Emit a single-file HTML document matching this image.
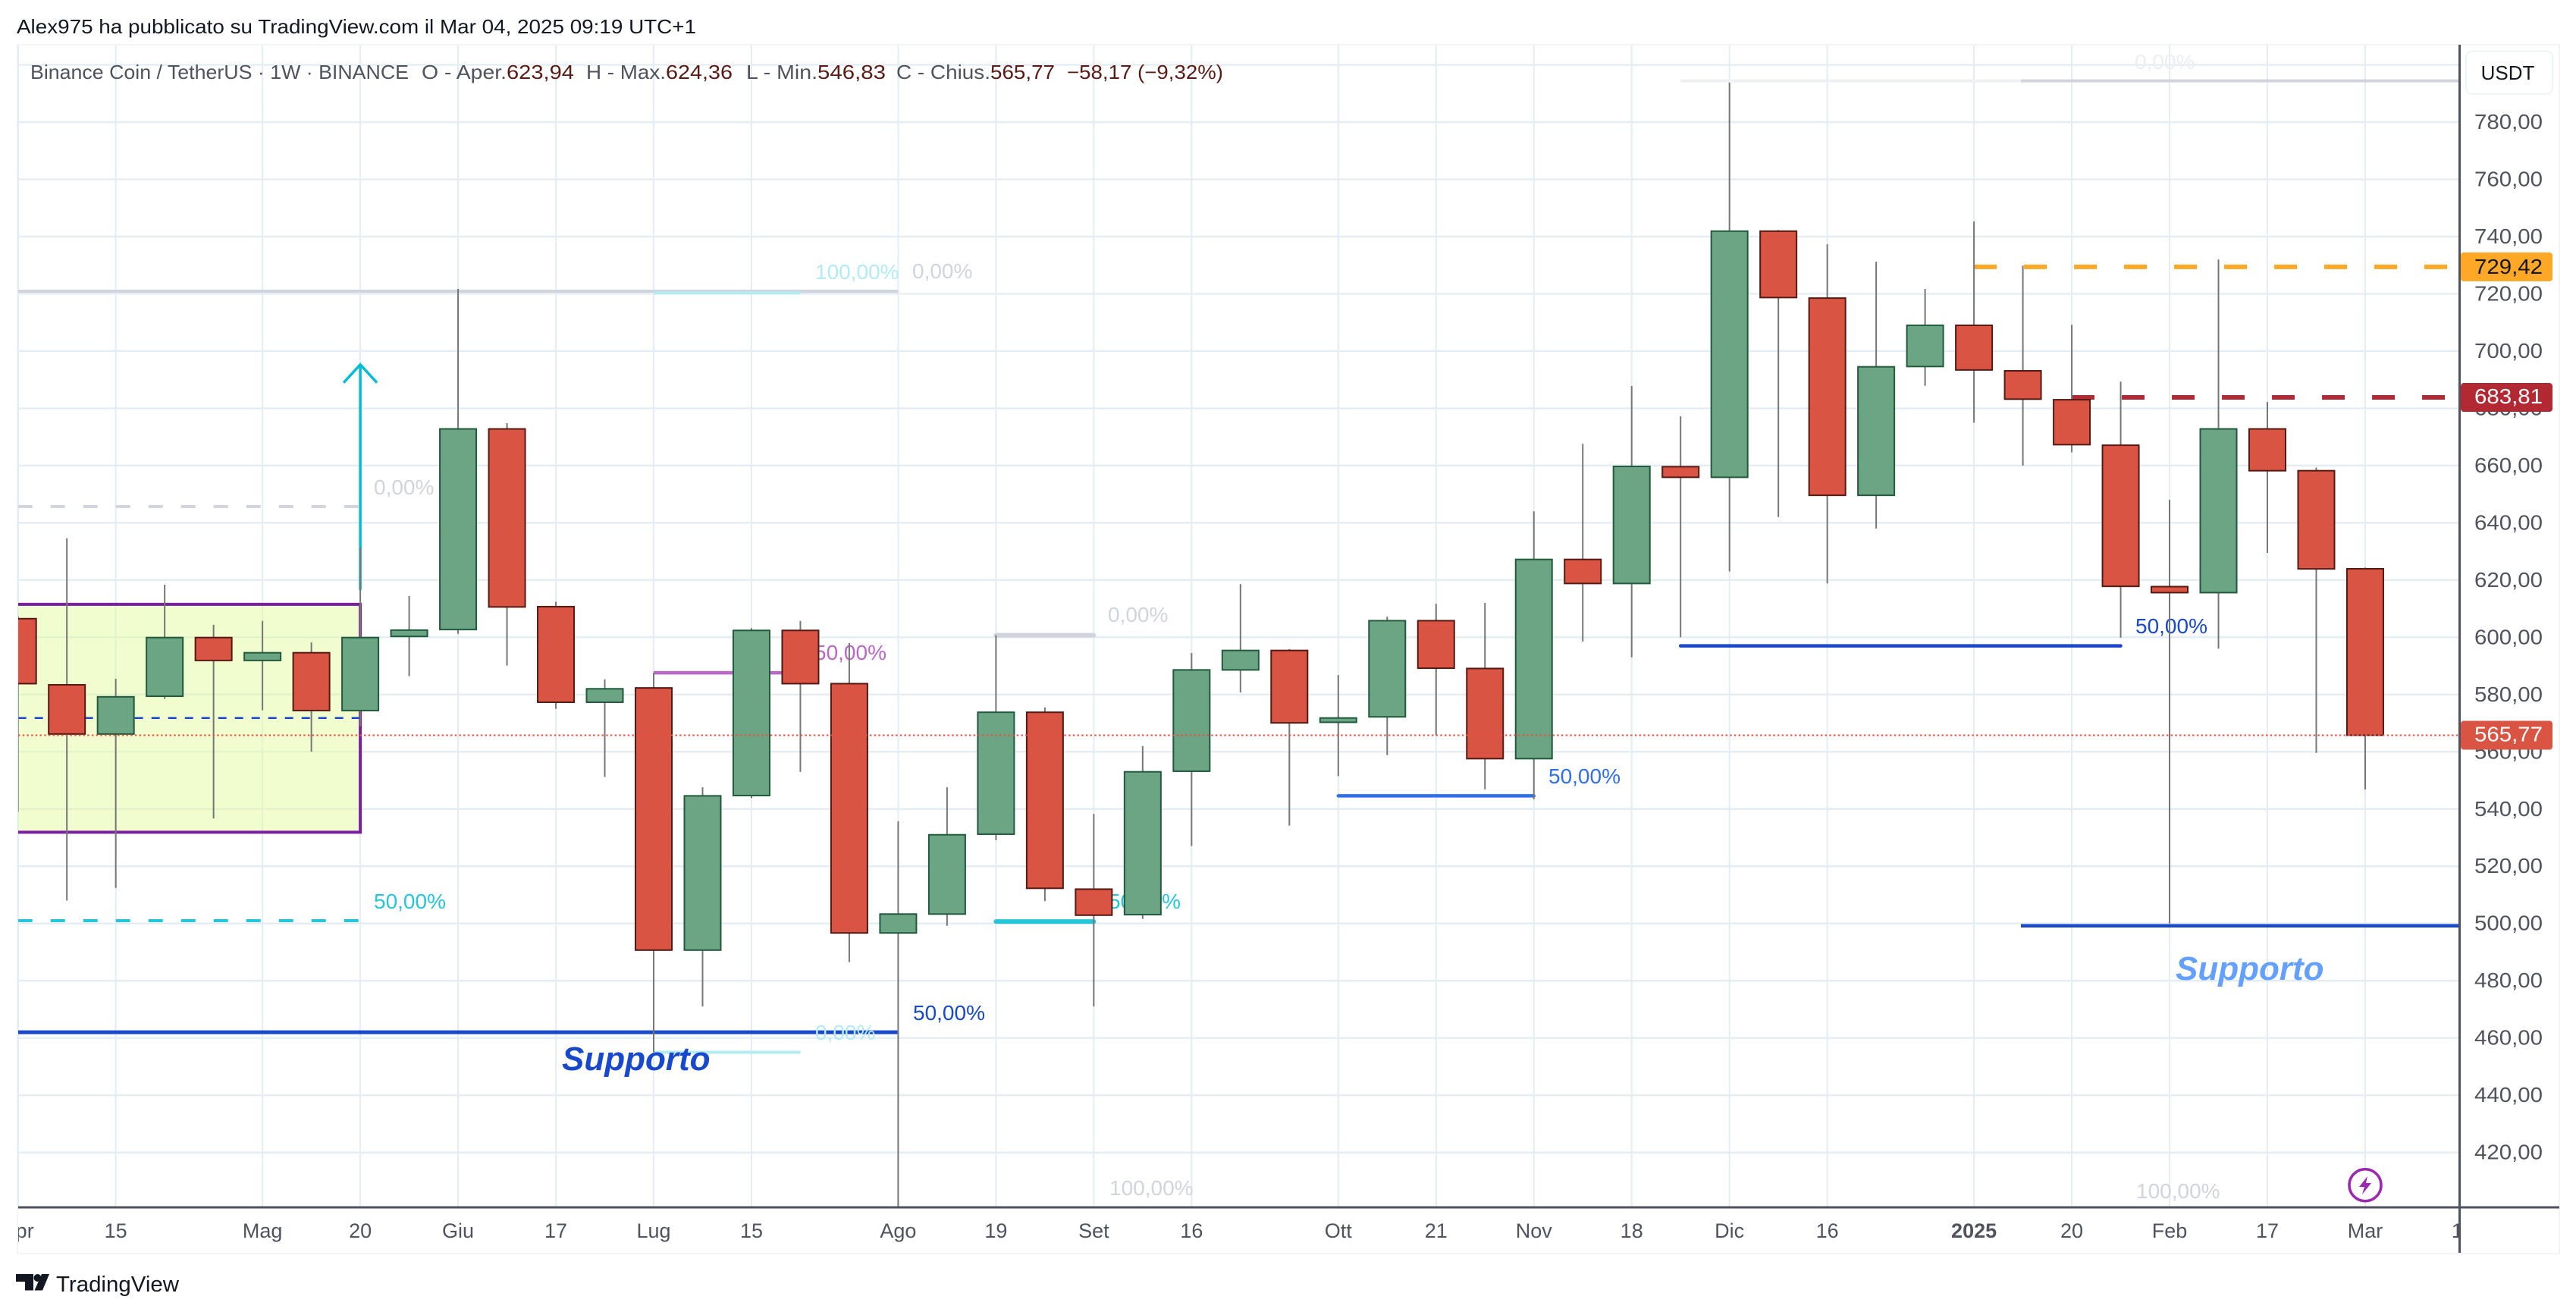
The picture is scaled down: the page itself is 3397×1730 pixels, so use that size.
<!DOCTYPE html>
<html lang="it">
<head>
<meta charset="utf-8">
<title>Binance Coin / TetherUS 1W</title>
<style>
html,body{margin:0;padding:0;background:#fff;width:3397px;height:1730px;overflow:hidden}
svg{display:block;font-family:"Liberation Sans",Arial,sans-serif}
</style>
</head>
<body>
<svg id="chart" xmlns="http://www.w3.org/2000/svg" width="3397" height="1730" viewBox="0 0 3397 1730">
  <defs>
    <clipPath id="pane-clip"><rect x="24" y="60" width="3219" height="1532"/></clipPath>
    <clipPath id="time-clip"><rect x="24" y="1594" width="3219" height="58"/></clipPath>
  </defs>
  <rect x="0" y="0" width="3397" height="1730" fill="#ffffff"/>
  <text x="22" y="44" font-size="26" fill="#131722" textLength="896" lengthAdjust="spacingAndGlyphs">Alex975 ha pubblicato su TradingView.com il Mar 04, 2025 09:19 UTC+1</text>
  <rect x="23" y="59" width="3352" height="1594" fill="none" stroke="#f3f4f5" stroke-width="2"/>

  <g id="grid-layer"></g>
  <g id="annotation-layer" clip-path="url(#pane-clip)"></g>

  <g font-size="28">
    <text x="1075" y="368" fill="#b2ebf2">100,00%</text>
    <text x="1203" y="367" fill="#d1d4dc">0,00%</text>
    <text x="493" y="652" fill="#d1d4dc">0,00%</text>
    <text x="493" y="1198" fill="#26c6da">50,00%</text>
    <text x="1074" y="870" fill="#ba68c8">50,00%</text>
    <text x="1204" y="1345" fill="#1848cc">50,00%</text>
    <text x="1075" y="1371" fill="#b2ebf2">0,00%</text>
    <text x="1461" y="820" fill="#d1d4dc">0,00%</text>
    <text x="1462" y="1198" fill="#26c6da">50,00%</text>
    <text x="1463" y="1576" fill="#d1d4dc">100,00%</text>
    <text x="2042" y="1033" fill="#2f6fed">50,00%</text>
    <text x="2816" y="835" fill="#1848cc">50,00%</text>
    <text x="2815" y="91" fill="#eceef2">0,00%</text>
    <text x="2817" y="1580" fill="#d1d4dc">100,00%</text>
  </g>

  <g id="candle-layer" clip-path="url(#pane-clip)"></g>
  <g id="overlay-layer" clip-path="url(#pane-clip)"></g>

  <text x="741" y="1411" font-size="44" font-weight="bold" font-style="italic" fill="#1848cc">Supporto</text>
  <text x="2869" y="1292" font-size="44" font-weight="bold" font-style="italic" fill="#64a0ff">Supporto</text>

  <g font-size="26" fill="#50535e">
    <text x="40" y="104" textLength="499" lengthAdjust="spacingAndGlyphs">Binance Coin / TetherUS · 1W · BINANCE</text>
    <text x="556" y="104" textLength="112" lengthAdjust="spacingAndGlyphs">O - Aper.</text>
    <text x="668" y="104" fill="#5b1a13" textLength="89" lengthAdjust="spacingAndGlyphs">623,94</text>
    <text x="773" y="104" textLength="105" lengthAdjust="spacingAndGlyphs">H - Max.</text>
    <text x="878" y="104" fill="#5b1a13" textLength="88" lengthAdjust="spacingAndGlyphs">624,36</text>
    <text x="984" y="104" textLength="94" lengthAdjust="spacingAndGlyphs">L - Min.</text>
    <text x="1078" y="104" fill="#5b1a13" textLength="90" lengthAdjust="spacingAndGlyphs">546,83</text>
    <text x="1182" y="104" textLength="124" lengthAdjust="spacingAndGlyphs">C - Chius.</text>
    <text x="1306" y="104" fill="#5b1a13" textLength="85" lengthAdjust="spacingAndGlyphs">565,77</text>
    <text x="1407" y="104" fill="#5b1a13" textLength="206" lengthAdjust="spacingAndGlyphs">−58,17 (−9,32%)</text>
  </g>

  <line x1="24" y1="1592" x2="3375" y2="1592" stroke="#50535e" stroke-width="3"/>
  <line x1="3243.5" y1="59" x2="3243.5" y2="1652" stroke="#50535e" stroke-width="3"/>

  <g id="time-labels" clip-path="url(#time-clip)"></g>
  <g id="price-labels"></g>
  <g id="price-tags"></g>

  <g>
    <rect x="3252" y="67.5" width="114" height="56.5" rx="8" fill="#ffffff" stroke="#f0f3fa" stroke-width="2"/>
    <text x="3307" y="105" font-size="26" text-anchor="middle" fill="#131722">USDT</text>
  </g>

  <g id="bolt-icon">
    <circle cx="3119" cy="1562.7" r="21" fill="#ffffff" stroke="#9c27b0" stroke-width="3.5"/>
    <path d="M3122 1551L3111 1565L3118 1565L3115 1575L3127 1560L3120 1560Z" fill="#9c27b0"/>
  </g>

  <g>
    <path d="M21 1680H44V1701.5H33V1690H21Z" fill="#131722"/>
    <circle cx="49.5" cy="1685" r="5" fill="#131722"/>
    <path d="M55 1680H65L56 1701.5H45.5Z" fill="#131722"/>
    <text x="74" y="1703" font-size="29" fill="#131722" textLength="162" lengthAdjust="spacingAndGlyphs">TradingView</text>
  </g>
</svg>

<script>
// ---- data ----
const opens = [
  606.5,583.4,566.2,579.4,599.9,591.9,594.6,574.4,600.3,602.7,
  672.8,610.7,577.3,582.3,490.7,544.7,602.4,583.8,496.7,503.3,
  531.2,573.8,512,503.1,553.2,588.6,595.4,570.3,572.2,605.8,
  589.1,557.6,627.2,618.8,659.6,655.9,741.9,718.5,649.6,694.6,
  709,693.1,683,667.1,617.7,615.6,672.8,658.2,623.94];
const closes = [
  583.8,566.2,579.2,599.9,591.9,594.6,574.4,599.9,602.5,672.8,
  610.6,577.3,582,490.7,544.6,602.4,583.8,496.7,503.3,531,
  573.8,512.3,502.9,553,588.6,595.4,570.1,571.8,605.8,589.2,
  557.6,627.2,618.8,659.7,655.9,741.9,718.7,649.6,694.5,709,
  693.4,683.2,667.3,617.8,615.6,672.8,658.2,623.9,565.77];
const highs = [
  607.4,634.6,585.5,618.4,604.4,605.7,598.2,631.4,614.4,721.7,
  674.8,612.4,585.3,587.6,547.6,603.2,605.7,598,535.7,547.6,
  600.7,575.5,538.3,562,594.5,618.6,595.9,586.8,607.2,611.7,
  612,644,667.6,687.8,677.2,793.8,742.3,737.3,731.2,721.7,
  745.3,729.9,709.2,689.3,648,732,682.2,659.3,624.36];
const lows = [
  539,508,512.4,578.5,536.7,574.5,560,568.9,586.4,601.2,
  590.1,575,551.2,455,471,543.8,553,486.5,398,499.2,
  529.1,507.8,471,501.6,527.1,580.7,534.2,551.5,558.8,565.8,
  546.9,543.4,598.5,593,600,623,642,618.8,638,687.9,
  675,660,664.6,599.9,500,596,629.5,559.6,546.83];
const priceTicks = [800,780,760,740,720,700,680,660,640,620,600,580,560,540,520,500,480,460,440,420];
const timeTickBars = [0,2,5,7,9,11,13,15,18,20,22,24,27,29,31,33,35,37,40,42,44,46,48,50];
const timeTickLabels = ['Apr','15','Mag','20','Giu','17','Lug','15','Ago','19','Set','16','Ott','21','Nov','18','Dic','16','2025','20','Feb','17','Mar','10'];
const lastClose = 565.77;
const orangeLevel = 729.42;
const redLevel = 683.81;

// ---- axis functions ----
function xScale(bar){ return 23.7 + 64.485 * bar; }
function yScale(price){ return 161 + (780 - price) * 3.774; }
function priceText(v){ return v.toFixed(2).replace('.', ','); }

const NS = 'http://www.w3.org/2000/svg';
const gridLayer = document.getElementById('grid-layer');
const annotationLayer = document.getElementById('annotation-layer');
const candleLayer = document.getElementById('candle-layer');
const overlayLayer = document.getElementById('overlay-layer');
const timeLabels = document.getElementById('time-labels');
const priceLabels = document.getElementById('price-labels');
const priceTags = document.getElementById('price-tags');

function mk(tag, attrs, parent){
  const el = document.createElementNS(NS, tag);
  for (const k in attrs) el.setAttribute(k, attrs[k]);
  parent.appendChild(el);
  return el;
}

// ---- grid ----
priceTicks.forEach(function(p){
  const el = mk('line', {x1:24, x2:3243, y1:yScale(p), y2:yScale(p), stroke:'#e3edf3', 'stroke-width':2.4}, gridLayer);
  
  
});
timeTickBars.forEach(function(b){
  if (xScale(b) > 3243) return;
  const el = mk('line', {x1:Math.max(xScale(b),24), x2:Math.max(xScale(b),24), y1:60, y2:1592, stroke:'#e3edf3', 'stroke-width':2}, gridLayer);
  
  
});

// ---- drawings ----
const boxTop = yScale(611.5), boxBottom = yScale(531.9), boxLeft = xScale(0), boxRight = xScale(7);
const box = mk('rect', {x:boxLeft, y:boxTop, width:boxRight-boxLeft, height:boxBottom-boxTop, fill:'#e4f9a0', 'fill-opacity':0.5}, annotationLayer);


const boxEdge = mk('path', {d:'M'+boxLeft+' '+boxTop+'H'+boxRight+'V'+boxBottom+'H'+boxLeft, fill:'none', stroke:'#7b1fa2', 'stroke-width':4}, annotationLayer);



function hLine(price, barA, barB, color, width, dash, cap){
  const a = {x1:xScale(barA), x2:barB === null ? 3243 : xScale(barB), y1:yScale(price), y2:yScale(price), stroke:color, 'stroke-width':width};
  if (dash) a['stroke-dasharray'] = dash;
  if (cap) a['stroke-linecap'] = cap;
  return mk('line', a, annotationLayer);
}
let seg;
seg = hLine(720.9, 0, 18, '#d1d4dc', 4);


seg = hLine(720.3, 13, 16, '#b2ebf2', 4);


seg = hLine(645.7, 0, 7, '#d1d4dc', 4, '19 24');


seg = hLine(501, 0, 7, '#26c6da', 4, '19 24');


seg = hLine(571.8, 0, 7, '#1848cc', 2.6, '11 11');


seg = hLine(587.6, 13, 16, '#ba68c8', 4.5);


seg = hLine(462, 0, 18, '#1848cc', 5);


seg = hLine(455, 13, 16, '#b2ebf2', 4);


seg = hLine(600.7, 20, 22, '#d1d4dc', 6, null, 'round');


seg = hLine(500.7, 20, 22, '#26c6da', 6, null, 'round');


seg = hLine(544.6, 27, 31, '#2f6fed', 4.5, null, 'round');


seg = hLine(597, 34, 43, '#1848cc', 4.5, null, 'round');


seg = hLine(794.4, 34, 40.96, '#eef0f3', 4);


seg = hLine(794.4, 40.96, null, '#d1d4dc', 4);


seg = hLine(499.2, 40.96, null, '#1848cc', 4.5);


seg = hLine(orangeLevel, 40, 49.75, '#ffa726', 6, '30 36');


seg = hLine(redLevel, 42, 49.75, '#b22833', 6, '30 36');



const arrowX = xScale(7), arrowTip = yScale(695.3), arrowBase = yScale(616.5);
const arrow = mk('path', {d:'M'+arrowX+' '+arrowBase+'V'+arrowTip+'M'+(arrowX-22)+' '+(arrowTip+24)+'L'+arrowX+' '+arrowTip+'L'+(arrowX+22)+' '+(arrowTip+24), fill:'none', stroke:'#00bcd4', 'stroke-width':3.5}, annotationLayer);



// ---- candles ----
opens.forEach(function(o, i){
  const c = closes[i], up = c >= o, cx = xScale(i);
  const wick = mk('line', {x1:cx, x2:cx, y1:yScale(highs[i]), y2:yScale(lows[i]), stroke:'#767676', 'stroke-width':2}, candleLayer);
  
  
  const top = yScale(Math.max(o, c)), bottom = yScale(Math.min(o, c));
  const body = mk('rect', {x:cx-24, y:top, width:48, height:Math.max(bottom-top,2), fill:up?'#6ca584':'#d95443', stroke:up?'#215a3c':'#551a14', 'stroke-width':2}, candleLayer);
  
  
});

// ---- last price line ----
const lastLine = mk('line', {x1:24, x2:3243, y1:yScale(lastClose), y2:yScale(lastClose), stroke:'#e8503f', 'stroke-width':2, 'stroke-dasharray':'2.5 3.2'}, overlayLayer);



// ---- axis labels ----
timeTickBars.forEach(function(b, i){
  const isYear = timeTickLabels[i] === '2025';
  const t = mk('text', {x:xScale(b), y:1632, 'font-size':27, 'text-anchor':'middle', fill:'#50535e', 'font-weight':isYear?'bold':'normal'}, timeLabels);
  t.textContent = timeTickLabels[i];
  
  
});
priceTicks.forEach(function(p){
  if (p > 790) return;
  const t = mk('text', {x:3308, y:yScale(p)+9, 'font-size':28, 'text-anchor':'middle', fill:'#50535e', textLength:90, lengthAdjust:'spacingAndGlyphs'}, priceLabels);
  t.textContent = priceText(p);
  
  
});

// ---- price tags ----
const orangeTag = mk('rect', {x:3245, y:yScale(orangeLevel)-19, width:121, height:38, rx:4, fill:'#ffa726'}, priceTags);


const orangeText = mk('text', {x:3308, y:yScale(orangeLevel)+9, 'font-size':28, 'text-anchor':'middle', fill:'#131722', textLength:90, lengthAdjust:'spacingAndGlyphs'}, priceTags);
orangeText.textContent = priceText(orangeLevel);


const redTag = mk('rect', {x:3245, y:yScale(redLevel)-19, width:121, height:38, rx:4, fill:'#b22833'}, priceTags);


const redText = mk('text', {x:3308, y:yScale(redLevel)+8, 'font-size':28, 'text-anchor':'middle', fill:'#ffffff', textLength:90, lengthAdjust:'spacingAndGlyphs'}, priceTags);
redText.textContent = priceText(redLevel);


const lastTag = mk('rect', {x:3245, y:yScale(lastClose)-19, width:121, height:38, rx:4, fill:'#d95443'}, priceTags);


const lastText = mk('text', {x:3308, y:yScale(lastClose)+8, 'font-size':28, 'text-anchor':'middle', fill:'#ffffff', textLength:90, lengthAdjust:'spacingAndGlyphs'}, priceTags);
lastText.textContent = priceText(lastClose);


</script>
</body>
</html>
